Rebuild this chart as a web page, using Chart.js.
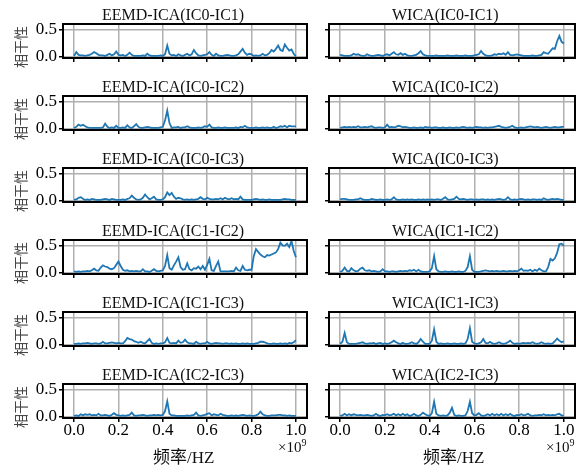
<!DOCTYPE html>
<html>
<head>
<meta charset="utf-8">
<script src="https://cdn.jsdelivr.net/npm/chart.js@4.4.0/dist/chart.umd.min.js"></script>
<style>
body{margin:0;background:#fff;}
#wrap{position:relative;width:585px;height:470px;overflow:hidden;}
#wrap canvas{position:absolute;}
.ttl{position:absolute;font:16px 'Liberation Serif',serif;line-height:16px;color:#111;white-space:nowrap;}
.ylab{position:absolute;font:14px 'Noto Sans CJK SC';line-height:14px;color:#444;transform:translate(-50%,-50%) rotate(-90deg);white-space:nowrap;}
.xlab{position:absolute;font:17px 'Liberation Serif','Noto Sans CJK SC';line-height:17px;color:#111;white-space:nowrap;}
.expo{position:absolute;font:15px 'Liberation Serif',serif;line-height:15px;color:#111;white-space:nowrap;}
.expo span{font-size:10px;position:relative;top:-6px;}
</style>
</head>
<body>
<div id="wrap"></div>
<script>
// frecuencia (x1e9)
let freq = [0,0.01,0.02,0.03,0.04,0.05,0.06,0.07,0.08,0.09,
 0.1,0.11,0.12,0.13,0.14,0.15,0.16,0.17,0.18,0.19,
 0.2,0.21,0.22,0.23,0.24,0.25,0.26,0.27,0.28,0.29,
 0.3,0.31,0.32,0.33,0.34,0.35,0.36,0.37,0.38,0.39,
 0.4,0.41,0.42,0.43,0.44,0.45,0.46,0.47,0.48,0.49,
 0.5,0.51,0.52,0.53,0.54,0.55,0.56,0.57,0.58,0.59,
 0.6,0.61,0.62,0.63,0.64,0.65,0.66,0.67,0.68,0.69,
 0.7,0.71,0.72,0.73,0.74,0.75,0.76,0.77,0.78,0.79,
 0.8,0.81,0.82,0.83,0.84,0.85,0.86,0.87,0.88,0.89,
 0.9,0.91,0.92,0.93,0.94,0.95,0.96,0.97,0.98,0.99,1.0];

let titulosEEMD = ['EEMD-ICA(IC0-IC1)','EEMD-ICA(IC0-IC2)','EEMD-ICA(IC0-IC3)','EEMD-ICA(IC1-IC2)','EEMD-ICA(IC1-IC3)','EEMD-ICA(IC2-IC3)'];
let titulosWICA = ['WICA(IC0-IC1)','WICA(IC0-IC2)','WICA(IC0-IC3)','WICA(IC1-IC2)','WICA(IC1-IC3)','WICA(IC2-IC3)'];

let xTicks = [0,0.2,0.4,0.6,0.8,1.0];
let yTicks = [0,0.5];

let eemd01 = [0.01,0.08,0.03,0.02,0.02,0.01,0.02,0.03,0.05,0.08,
 0.06,0.03,0.02,0.02,0.01,0.03,0.05,0.02,0.04,0.09,
 0.03,0.02,0.03,0.01,0.03,0.07,0.03,0.01,0.01,0.01,
 0.01,0.02,0.01,0.05,0.02,0.01,0.01,0.01,0.01,0.02,
 0.01,0.04,0.20,0.05,0.02,0.03,0.01,0.04,0.02,0.01,
 0.03,0.05,0.02,0.04,0.12,0.06,0.02,0.01,0.02,0.03,
 0.04,0.08,0.03,0.01,0.05,0.02,0.01,0.01,0.02,0.03,
 0.02,0.01,0.01,0.02,0.04,0.09,0.14,0.07,0.03,0.05,
 0.04,0.01,0.02,0.01,0.02,0.05,0.02,0.03,0.06,0.12,
 0.09,0.14,0.20,0.12,0.10,0.22,0.16,0.11,0.13,0.05,0.0];

let wica01 = [0.03,0.02,0.01,0.01,0.01,0.02,0.05,0.03,0.04,0.02,
 0.01,0.01,0.04,0.02,0.01,0.01,0.02,0.03,0.02,0.01,
 0.03,0.04,0.02,0.05,0.08,0.04,0.03,0.06,0.03,0.05,
 0.02,0.01,0.01,0.02,0.03,0.06,0.10,0.04,0.02,0.01,
 0.01,0.01,0.01,0.02,0.01,0.01,0.01,0.01,0.02,0.01,
 0.01,0.01,0.02,0.01,0.01,0.01,0.02,0.01,0.01,0.01,
 0.02,0.03,0.04,0.10,0.05,0.02,0.01,0.01,0.02,0.04,
 0.03,0.05,0.04,0.06,0.03,0.08,0.03,0.02,0.03,0.04,
 0.03,0.02,0.01,0.01,0.01,0.01,0.02,0.01,0.01,0.02,
 0.03,0.08,0.06,0.05,0.10,0.15,0.14,0.28,0.38,0.27,0.24];

let eemd02 = [0.01,0.03,0.07,0.05,0.07,0.04,0.02,0.01,0.01,0.01,
 0.01,0.01,0.01,0.02,0.09,0.03,0.01,0.02,0.01,0.05,
 0.01,0.01,0.02,0.01,0.06,0.02,0.01,0.04,0.08,0.03,
 0.01,0.01,0.02,0.03,0.02,0.01,0.01,0.01,0.01,0.02,
 0.03,0.15,0.33,0.10,0.01,0.02,0.02,0.03,0.01,0.02,
 0.02,0.04,0.02,0.01,0.01,0.01,0.02,0.01,0.02,0.04,
 0.03,0.07,0.02,0.01,0.01,0.02,0.01,0.01,0.02,0.01,
 0.01,0.01,0.01,0.02,0.01,0.03,0.02,0.05,0.02,0.01,
 0.01,0.01,0.02,0.01,0.01,0.02,0.01,0.02,0.01,0.01,
 0.03,0.01,0.02,0.04,0.03,0.05,0.02,0.05,0.04,0.04,0.04];

let wica02 = [0.01,0.02,0.03,0.02,0.03,0.02,0.03,0.02,0.04,0.02,
 0.02,0.03,0.02,0.03,0.04,0.02,0.01,0.02,0.02,0.01,
 0.02,0.07,0.02,0.03,0.02,0.03,0.05,0.04,0.02,0.03,
 0.02,0.01,0.01,0.02,0.01,0.01,0.02,0.01,0.03,0.02,
 0.02,0.01,0.02,0.02,0.01,0.01,0.02,0.01,0.01,0.02,
 0.01,0.01,0.02,0.01,0.02,0.03,0.02,0.01,0.02,0.01,
 0.02,0.03,0.02,0.02,0.01,0.02,0.01,0.02,0.02,0.03,
 0.04,0.05,0.03,0.02,0.01,0.02,0.03,0.05,0.02,0.01,
 0.01,0.02,0.01,0.02,0.03,0.04,0.03,0.02,0.03,0.02,
 0.01,0.02,0.03,0.02,0.01,0.02,0.03,0.02,0.02,0.03,0.03];

let eemd03 = [0.01,0.02,0.05,0.06,0.03,0.01,0.02,0.01,0.03,0.02,
 0.01,0.01,0.01,0.02,0.03,0.02,0.01,0.03,0.02,0.01,
 0.01,0.01,0.02,0.01,0.03,0.04,0.09,0.05,0.02,0.01,
 0.02,0.05,0.11,0.06,0.02,0.04,0.07,0.02,0.01,0.01,
 0.02,0.06,0.15,0.10,0.14,0.07,0.03,0.05,0.04,0.02,
 0.01,0.02,0.01,0.02,0.01,0.02,0.03,0.06,0.03,0.02,
 0.05,0.03,0.02,0.02,0.03,0.02,0.04,0.02,0.05,0.03,
 0.02,0.04,0.02,0.03,0.02,0.07,0.02,0.01,0.01,0.01,
 0.01,0.02,0.03,0.02,0.01,0.02,0.01,0.01,0.02,0.01,
 0.01,0.01,0.01,0.01,0.02,0.03,0.02,0.02,0.01,0.01,0.01];

let wica03 = [0.02,0.03,0.03,0.02,0.01,0.01,0.01,0.02,0.02,0.04,
 0.02,0.01,0.01,0.01,0.03,0.02,0.01,0.01,0.02,0.01,
 0.01,0.02,0.01,0.02,0.06,0.02,0.01,0.01,0.02,0.01,
 0.02,0.01,0.02,0.01,0.01,0.02,0.01,0.02,0.01,0.02,
 0.01,0.02,0.01,0.02,0.02,0.01,0.03,0.06,0.02,0.01,
 0.02,0.03,0.07,0.03,0.02,0.03,0.02,0.01,0.02,0.02,
 0.01,0.02,0.01,0.02,0.02,0.01,0.02,0.01,0.02,0.01,
 0.02,0.03,0.02,0.01,0.02,0.06,0.02,0.01,0.02,0.01,
 0.02,0.03,0.02,0.01,0.02,0.01,0.02,0.02,0.01,0.02,
 0.01,0.04,0.02,0.01,0.02,0.03,0.02,0.03,0.02,0.01,0.01];

let eemd12 = [0.02,0.01,0.02,0.01,0.02,0.02,0.03,0.02,0.04,0.07,
 0.04,0.03,0.09,0.13,0.11,0.10,0.07,0.06,0.08,0.14,
 0.20,0.12,0.05,0.03,0.04,0.02,0.03,0.02,0.03,0.02,
 0.02,0.06,0.02,0.02,0.01,0.03,0.06,0.03,0.02,0.03,
 0.04,0.12,0.32,0.08,0.05,0.13,0.20,0.28,0.10,0.05,
 0.06,0.17,0.06,0.04,0.08,0.07,0.11,0.06,0.12,0.05,
 0.14,0.25,0.04,0.03,0.12,0.20,0.02,0.02,0.02,0.02,
 0.02,0.03,0.02,0.09,0.04,0.03,0.12,0.05,0.04,0.05,
 0.05,0.30,0.43,0.38,0.33,0.30,0.28,0.32,0.31,0.33,
 0.35,0.37,0.43,0.55,0.50,0.49,0.53,0.47,0.58,0.40,0.28];

let wica12 = [0.01,0.03,0.09,0.03,0.02,0.08,0.04,0.02,0.03,0.07,
 0.09,0.04,0.03,0.04,0.02,0.03,0.02,0.01,0.02,0.06,
 0.02,0.02,0.01,0.02,0.02,0.01,0.02,0.03,0.02,0.03,
 0.02,0.04,0.03,0.05,0.02,0.05,0.02,0.01,0.01,0.01,
 0.02,0.08,0.30,0.06,0.02,0.01,0.01,0.02,0.01,0.01,
 0.02,0.01,0.01,0.02,0.01,0.01,0.03,0.10,0.30,0.05,
 0.01,0.01,0.01,0.02,0.03,0.04,0.03,0.02,0.03,0.02,
 0.03,0.02,0.02,0.03,0.02,0.02,0.03,0.02,0.03,0.02,
 0.04,0.07,0.03,0.04,0.03,0.05,0.02,0.05,0.03,0.07,
 0.04,0.02,0.02,0.10,0.25,0.22,0.26,0.36,0.52,0.53,0.49];

let eemd13 = [0.01,0.01,0.02,0.01,0.02,0.02,0.03,0.02,0.01,0.02,
 0.02,0.01,0.02,0.05,0.02,0.02,0.03,0.04,0.03,0.02,
 0.03,0.02,0.02,0.06,0.12,0.10,0.09,0.06,0.05,0.03,
 0.05,0.03,0.02,0.06,0.10,0.03,0.01,0.02,0.01,0.02,
 0.02,0.04,0.12,0.03,0.02,0.03,0.02,0.07,0.03,0.04,
 0.09,0.04,0.02,0.02,0.01,0.05,0.02,0.01,0.02,0.02,
 0.05,0.02,0.01,0.02,0.03,0.02,0.02,0.01,0.02,0.02,
 0.01,0.02,0.01,0.02,0.01,0.01,0.02,0.01,0.02,0.01,
 0.01,0.01,0.02,0.03,0.05,0.05,0.04,0.02,0.01,0.01,
 0.02,0.01,0.01,0.02,0.01,0.02,0.01,0.03,0.02,0.04,0.08];

let wica13 = [0.01,0.05,0.21,0.04,0.01,0.01,0.01,0.01,0.02,0.03,
 0.04,0.02,0.01,0.02,0.02,0.03,0.01,0.02,0.03,0.01,
 0.02,0.01,0.02,0.04,0.07,0.04,0.02,0.01,0.03,0.01,
 0.01,0.02,0.04,0.02,0.01,0.04,0.10,0.05,0.01,0.01,
 0.01,0.07,0.28,0.05,0.01,0.02,0.01,0.01,0.02,0.01,
 0.01,0.02,0.01,0.01,0.02,0.01,0.02,0.10,0.30,0.05,
 0.02,0.01,0.02,0.04,0.10,0.03,0.02,0.05,0.02,0.01,
 0.02,0.04,0.02,0.01,0.02,0.04,0.07,0.03,0.01,0.02,
 0.01,0.02,0.03,0.02,0.03,0.02,0.04,0.02,0.01,0.02,
 0.04,0.02,0.01,0.02,0.01,0.02,0.06,0.11,0.07,0.04,0.06];

let eemd23 = [0.01,0.02,0.01,0.04,0.02,0.04,0.03,0.04,0.02,0.03,
 0.02,0.05,0.02,0.02,0.03,0.02,0.01,0.03,0.06,0.03,
 0.02,0.01,0.02,0.01,0.02,0.03,0.07,0.02,0.01,0.02,
 0.02,0.03,0.02,0.01,0.02,0.02,0.03,0.02,0.03,0.02,
 0.03,0.10,0.28,0.05,0.02,0.02,0.01,0.01,0.01,0.01,
 0.01,0.02,0.01,0.02,0.03,0.07,0.02,0.01,0.02,0.03,
 0.05,0.06,0.02,0.04,0.03,0.02,0.05,0.03,0.02,0.01,
 0.01,0.02,0.01,0.02,0.01,0.02,0.03,0.02,0.01,0.02,
 0.01,0.01,0.02,0.04,0.09,0.04,0.02,0.01,0.01,0.02,
 0.02,0.02,0.03,0.03,0.02,0.02,0.01,0.02,0.01,0.01,0.01];

let wica23 = [0.01,0.02,0.05,0.02,0.04,0.02,0.04,0.03,0.02,0.03,
 0.02,0.02,0.03,0.02,0.01,0.02,0.05,0.02,0.01,0.03,
 0.02,0.04,0.02,0.03,0.05,0.02,0.04,0.02,0.05,0.02,
 0.04,0.01,0.02,0.05,0.02,0.01,0.03,0.07,0.04,0.02,
 0.01,0.06,0.27,0.05,0.02,0.01,0.02,0.01,0.02,0.07,
 0.16,0.03,0.01,0.02,0.01,0.01,0.02,0.10,0.27,0.06,
 0.02,0.03,0.06,0.02,0.01,0.02,0.04,0.02,0.05,0.02,
 0.04,0.02,0.05,0.02,0.04,0.02,0.05,0.02,0.01,0.03,
 0.02,0.04,0.02,0.03,0.05,0.02,0.01,0.02,0.02,0.03,
 0.02,0.04,0.02,0.03,0.02,0.03,0.02,0.04,0.05,0.02,0.01];

let filas = [
    [eemd01, wica01],
    [eemd02, wica02],
    [eemd03, wica03],
    [eemd12, wica12],
    [eemd13, wica13],
    [eemd23, wica23]
];

let wrap = document.querySelector('#wrap');

Chart.defaults.font.family = "'Liberation Serif', serif";
Chart.defaults.color = '#000';

// marco negro alrededor del area
const marco = {
    id: 'marco',
    afterDatasetsDraw(chart){
        let a = chart.chartArea;
        let ctx = chart.ctx;
        ctx.save();
        ctx.strokeStyle = '#000';
        ctx.lineWidth = 2;
        ctx.strokeRect(a.left, a.top, a.right - a.left, a.bottom - a.top);
        ctx.restore();
    }
};

function crearPanel(fila, col, serie){
    let ultima = fila == 5;
    let w = col == 0 ? 312 : 273;
    let h = ultima ? 110 : 72;
    let c = document.createElement('canvas');
    c.width = w;
    c.height = h;
    c.style.left = (col == 0 ? 0 : 312) + 'px';
    c.style.top = (72 * fila) + 'px';
    wrap.appendChild(c);

    let izq = col == 0 ? 63 : 17;
    let der = col == 0 ? 5 : 10;

    new Chart(c, {
        type: 'line',
        data: {
            datasets: [{
                data: freq.map((f, i) => ({x: f, y: serie[i]})),
                borderColor: '#1f77b4',
                borderWidth: 1.8,
                pointRadius: 0,
                tension: 0,
                fill: false
            }]
        },
        options: {
            responsive: false,
            animation: false,
            devicePixelRatio: 1,
            layout: {padding: {top: 24, right: der, left: 0, bottom: 0}},
            plugins: {legend: {display: false}, tooltip: {enabled: false}},
            scales: {
                x: {
                    type: 'linear',
                    min: -0.05,
                    max: 1.05,
                    afterBuildTicks: s => { s.ticks = xTicks.map(v => ({value: v})); },
                    afterFit: s => { s.height = h - 24 - 34; },
                    ticks: {display: ultima, padding: -2, font: {size: 17}, color: '#000',
                            maxRotation: 0, autoSkip: false, callback: v => v.toFixed(1)},
                    grid: {color: '#b0b0b0', lineWidth: 1.5, tickColor: '#000', tickLength: 4, tickWidth: 1.5},
                    border: {display: false}
                },
                y: {
                    min: -0.028,
                    max: 0.598,
                    afterBuildTicks: s => { s.ticks = yTicks.map(v => ({value: v})); },
                    afterFit: s => { s.width = izq; },
                    ticks: {display: col == 0, padding: 2, font: {size: 17}, color: '#000',
                            callback: v => v.toFixed(1)},
                    grid: {color: '#b0b0b0', lineWidth: 1.5, tickColor: '#000', tickLength: 4, tickWidth: 1.5},
                    border: {display: false}
                }
            }
        },
        plugins: [marco]
    });
}

function texto(clase, html, x, y){
    let d = document.createElement('div');
    d.className = clase;
    d.innerHTML = html;
    d.style.left = x + 'px';
    d.style.top = y + 'px';
    wrap.appendChild(d);
}

for(let r = 0; r < 6; r++){
    crearPanel(r, 0, filas[r][0]);
    crearPanel(r, 1, filas[r][1]);
    texto('ttl', titulosEEMD[r], 102, 7 + 72 * r);
    texto('ttl', titulosWICA[r], 392, 7 + 72 * r);
    texto('ylab', '相干性', 20, 47 + 72 * r);
}

texto('xlab', '频率/HZ', 153, 449);
texto('xlab', '频率/HZ', 423, 449);
texto('expo', '×10<span>9</span>', 278, 440);
texto('expo', '×10<span>9</span>', 546, 440);
</script>
</body>
</html>
